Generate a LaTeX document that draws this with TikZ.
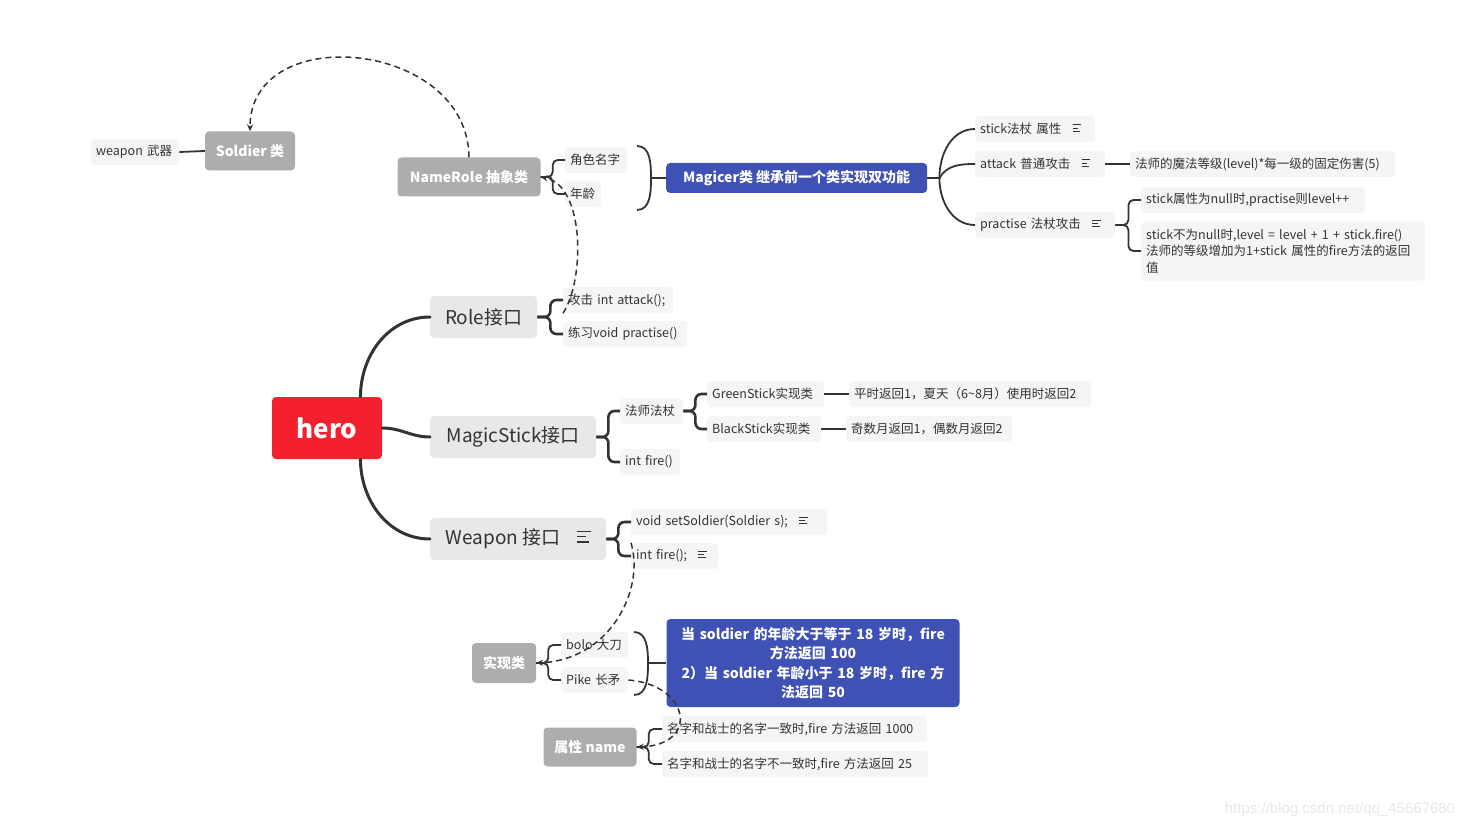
\documentclass[tikz,border=0pt]{standalone}
\usepackage{fontspec}
\setmainfont{Noto Sans CJK SC}
\newfontfamily\markfont{Liberation Sans}
\usetikzlibrary{arrows.meta}
\definecolor{ink}{HTML}{333333}
\definecolor{herored}{HTML}{F5202D}
\definecolor{topicgray}{HTML}{E8E8E8}
\definecolor{leafgray}{HTML}{F5F5F5}
\definecolor{floatgray}{HTML}{ADADAD}
\definecolor{indigo}{HTML}{3F51B5}
\definecolor{markgray}{HTML}{E8E8E8}
\newcommand\memo{\hspace{.9em}\raisebox{.12em}{\vbox{\hrule width .7em height .075em\vskip .2em\hrule width .45em height .075em\vskip .2em\hrule width .6em height .075em}}}

\begin{document}
\begin{tikzpicture}[x=1pt, y=1pt,
      every node/.append style={text=ink, inner sep=0pt, rounded corners=4pt},
      root/.style={fill=herored, text=white, font=\fontsize{26}{30}\selectfont\bfseries, minimum width=110pt, minimum height=62pt},
      topic/.style={fill=topicgray, font=\fontsize{19}{22}\selectfont, minimum height=42pt, anchor=west},
      leaf/.style={fill=leafgray, font=\fontsize{12.5}{15}\selectfont, minimum height=26pt, inner xsep=5pt, align=left, anchor=west},
      floater/.style={fill=floatgray, text=white, font=\fontsize{14}{17}\selectfont\bfseries, minimum height=39pt},
      callout/.style={fill=indigo, text=white, font=\fontsize{14}{19.5}\selectfont\bfseries}]
    \tikzstyle{trunk} = [draw=ink, line width=3pt, line cap=round]
    \tikzstyle{branch} = [draw=ink, line width=2.6pt, rounded corners=6pt]
    \tikzstyle{twig} = [draw=ink, line width=1.8pt, rounded corners=5pt]
    \tikzstyle{vine} = [draw=ink, line width=1.8pt]
    \tikzstyle{relation} = [draw=ink, line width=1.5pt, dash pattern=on 6pt off 4pt, -{Stealth[length=7pt,width=6pt]}]
    \useasboundingbox (0,0) rectangle (1472,-829);
    \node[root] (hero) at (327,-428) {hero};
    \node[topic, minimum width=107pt] (role) at (430,-317) {Role接口};
    \node[topic, minimum width=166pt] (stick) at (430,-437) {MagicStick接口};
    \node[topic, minimum width=176pt] (weapon) at (430,-539) {Weapon 接口\memo};
    \node[leaf, text width=100pt] (attack) at (563,-300) {攻击 int attack();};
    \node[leaf, text width=114pt] (practise) at (563,-334) {练习void practise()};
    \node[leaf, text width=53pt] (staff) at (620,-411) {法师法杖};
    \node[leaf, text width=50pt] (stickfire) at (620,-462) {int fire()};
    \node[leaf, text width=107pt] (green) at (707,-394) {GreenStick实现类};
    \node[leaf, text width=104pt] (black) at (707,-429) {BlackStick实现类};
    \node[leaf, text width=232pt] (greenrule) at (849,-394) {平时返回1，夏天（6\textasciitilde8月）使用时返回2};
    \node[leaf, text width=156pt] (blackrule) at (846,-429) {奇数月返回1，偶数月返回2};
    \node[leaf, text width=186pt] (setsoldier) at (631,-522) {void setSoldier(Soldier s);\memo};
    \node[leaf, text width=77pt] (weaponfire) at (631,-556) {int fire();\memo};
    \node[floater, minimum width=143pt] (namerole) at (469,-177) {NameRole 抽象类};
    \node[leaf, text width=52pt] (rolename) at (565,-160) {角色名字};
    \node[leaf, text width=26pt] (roleage) at (565,-194) {年龄};
    \node[callout, minimum width=261pt, minimum height=30pt, anchor=west] (magicer) at (666,-178) {Magicer类 继承前一个类实现双功能};
    \node[leaf, text width=110pt] (magstick) at (975,-129) {stick法杖 属性\memo};
    \node[leaf, text width=120pt] (magattack) at (975,-164) {attack 普通攻击\memo};
    \node[leaf, text width=130pt] (magpractise) at (975,-225) {practise 法杖攻击\memo};
    \node[leaf, text width=255pt] (damage) at (1130,-164) {法师的魔法等级(level)*每一级的固定伤害(5)};
    \node[leaf, text width=214pt] (nullstick) at (1141,-200) {stick属性为null时,practise则level++};
    \node[leaf, minimum height=59pt, text width=274pt, font=\fontsize{12.5}{16.5}\selectfont] (withstick) at (1141,-251) {stick不为null时,level = level + 1 + stick.fire()\\法师的等级增加为1+stick 属性的fire方法的返回\\值};
    \node[floater, minimum width=90pt] (soldier) at (250,-151) {Soldier 类};
    \node[leaf, text width=78pt] (soldierweapon) at (91,-152) {weapon 武器};
    \node[floater, minimum width=64pt, minimum height=40pt] (impl) at (504,-663) {实现类};
    \node[leaf, text width=57pt] (bolo) at (561,-645) {bolo 大刀};
    \node[leaf, text width=57pt] (pike) at (561,-680) {Pike 长矛};
    \node[callout, minimum width=293pt, minimum height=88pt, text width=283pt, align=center] (agerule) at (813,-663) {当 soldier 的年龄大于等于 18 岁时，fire\\方法返回 100\\2）当 soldier 年龄小于 18 岁时，fire 方\\法返回 50};
    \node[floater, minimum width=93pt] (attrname) at (590,-747) {属性 name};
    \node[leaf, text width=255pt] (samename) at (662,-729) {名字和战士的名字一致时,fire 方法返回 1000};
    \node[leaf, text width=256pt] (diffname) at (662,-764) {名字和战士的名字不一致时,fire 方法返回 25};
    \node[text=markgray, font=\markfont\fontsize{15}{18}\selectfont] (mark) at (1340,-810) {https://blog.csdn.net/qq\_45667680};
    \coordinate (roletop) at (637,-146);
    \coordinate (rolemid) at (651,-178);
    \coordinate (rolebot) at (637,-210);
    \coordinate (kindtop) at (634,-632);
    \coordinate (kindmid) at (648,-663);
    \coordinate (kindbot) at (634,-695);
    \draw[trunk] (hero.43) to[out=90,in=180] (role.west);
    \draw[trunk] (hero.east) to[out=0,in=180] (stick.west);
    \draw[trunk] (hero.-43) to[out=-90,in=180] (weapon.west);
    \draw[branch] (role.east) -- ++(13,0) |- (attack.west);
    \draw[branch] (role.east) -- ++(13,0) |- (practise.west);
    \draw[branch] (stick.east) -- ++(12,0) |- (staff.west);
    \draw[branch] (stick.east) -- ++(12,0) |- (stickfire.west);
    \draw[branch] (staff.east) -- ++(12,0) |- (green.west);
    \draw[branch] (staff.east) -- ++(12,0) |- (black.west);
    \draw[branch] (green.east) -- (greenrule.west);
    \draw[branch] (black.east) -- (blackrule.west);
    \draw[branch] (weapon.east) -- ++(12,0) |- (setsoldier.west);
    \draw[branch] (weapon.east) -- ++(12,0) |- (weaponfire.west);
    \draw[twig] (namerole.east) -- ++(12,0) |- (rolename.west);
    \draw[twig] (namerole.east) -- ++(12,0) |- (roleage.west);
    \draw[vine] (roletop) to[out=0,in=90] (rolemid) to[out=-90,in=0] (rolebot);
    \draw[vine] (rolemid) -- (magicer.west);
    \draw[vine] (magicer.east) -- ++(12,0) to[out=90,in=180] (magstick.west);
    \draw[vine] (magicer.east) -- ++(12,0) to[out=60,in=180] (magattack.west);
    \draw[vine] (magicer.east) -- ++(12,0) to[out=-90,in=180] (magpractise.west);
    \draw[twig] (magattack.east) -- (damage.west);
    \draw[twig] (magpractise.east) -- ++(13,0) |- (nullstick.west);
    \draw[twig] (magpractise.east) -- ++(13,0) |- (withstick.west);
    \draw[twig] (soldier.west) -- (soldierweapon.east);
    \draw[twig] (impl.east) -- ++(12,0) |- (bolo.west);
    \draw[twig] (impl.east) -- ++(12,0) |- (pike.west);
    \draw[vine] (kindtop) to[out=0,in=90] (kindmid) to[out=-90,in=0] (kindbot);
    \draw[vine] (kindmid) -- (agerule.west);
    \draw[twig] (attrname.east) -- ++(12,0) |- (samename.west);
    \draw[twig] (attrname.east) -- ++(12,0) |- (diffname.west);
    \draw[relation] (namerole.north) .. controls (468,-40) and (250,-20) .. (soldier.north);
    \draw[relation] (attack.south west) .. controls (585,-280) and (585,-185) .. (namerole.east);
    \draw[relation] (weaponfire.north west) .. controls (645,-590) and (610,-660) .. (impl.east);
    \draw[relation] (pike.east) .. controls (690,-685) and (700,-745) .. (attrname.east);
\end{tikzpicture}
\end{document}
